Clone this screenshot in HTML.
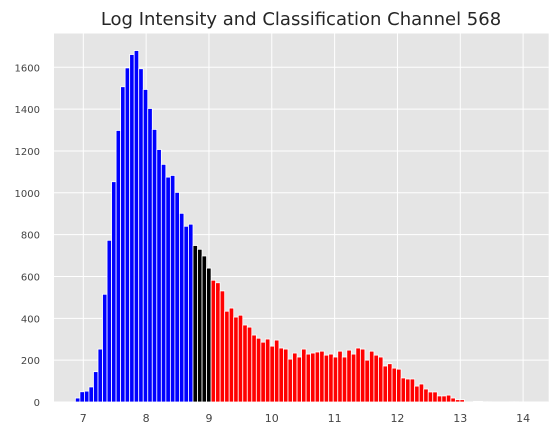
<!DOCTYPE html>
<html><head><meta charset="utf-8"><style>
body{margin:0;background:#fff;}
svg{display:block;font-family:"DejaVu Sans","Liberation Sans",sans-serif;}
</style></head><body>
<svg id="chart" width="558" height="437">
<text x="301" y="25" font-size="18" text-anchor="middle" fill="#262626">Log Intensity and Classification Channel 568</text>
<rect x="54" y="33.5" width="494.7" height="368.5" fill="#e5e5e5"/>
<g id="grid"></g><g id="bars"></g><g id="ticks"></g>
</svg>
<script>
const counts=[19,49,52,72,145,253,515,773,1053,1298,1507,1597,1661,1680,1593,1494,1403,1303,1207,1136,1075,1083,1002,902,840,850,
748,730,698,640,
582,570,531,434,449,406,415,368,358,320,305,286,301,267,296,258,253,205,234,215,253,229,234,239,243,224,229,215,243,215,248,229,258,253,200,243,224,215,
172,183,162,157,115,110,110,76,86,62,48,48,29,29,33,19,11,11,0,0,3,3,1,1,0,0,0,0,1,1];
const classes=[];
for(let i=0;i<counts.length;i++){classes.push(i<26?'blue':(i<30?'black':'red'));}
const binStart=6.874, binWidth=0.072;
const xTicks=[7,8,9,10,11,12,13,14];
const yTicks=[0,200,400,600,800,1000,1200,1400,1600];
const X=v=>83.3+(v-7)*62.83;
const Y=v=>402-v*0.2092;
const ns='http://www.w3.org/2000/svg';
const grid=document.getElementById('grid'),bars=document.getElementById('bars'),ticks=document.getElementById('ticks');
xTicks.forEach(t=>{
 const l=document.createElementNS(ns,'line');
 l.setAttribute('x1',X(t));l.setAttribute('x2',X(t));l.setAttribute('y1',33.5);l.setAttribute('y2',402);
 l.setAttribute('stroke','#fff');l.setAttribute('stroke-width','1');
 
 
 grid.appendChild(l);
 const tx=document.createElementNS(ns,'text');
 tx.setAttribute('x',X(t));tx.setAttribute('y',422);tx.setAttribute('text-anchor','middle');
 tx.setAttribute('font-size','11');tx.setAttribute('fill','#444');tx.textContent=t;
 
 
 ticks.appendChild(tx);
});
yTicks.forEach(t=>{
 const l=document.createElementNS(ns,'line');
 l.setAttribute('x1',54);l.setAttribute('x2',548.7);l.setAttribute('y1',Y(t));l.setAttribute('y2',Y(t));
 l.setAttribute('stroke','#fff');l.setAttribute('stroke-width','1');
 
 
 grid.appendChild(l);
 const tx=document.createElementNS(ns,'text');
 tx.setAttribute('x',40);tx.setAttribute('y',Y(t)+4);tx.setAttribute('text-anchor','end');
 tx.setAttribute('font-size','10');tx.setAttribute('fill','#444');tx.textContent=t;
 
 
 ticks.appendChild(tx);
});
counts.forEach((c,i)=>{
 if(c<=0)return;
 const x0=X(binStart+i*binWidth),x1=X(binStart+(i+1)*binWidth);
 const r=document.createElementNS(ns,'rect');
 r.setAttribute('x',x0);r.setAttribute('width',x1-x0);
 r.setAttribute('y',Y(c));r.setAttribute('height',Y(0)-Y(c));
 r.setAttribute('fill',classes[i]==='blue'?'#0000ff':classes[i]==='black'?'#000':'#ff0000');
 r.setAttribute('stroke','#fff');r.setAttribute('stroke-width','0.8');
 
 
 bars.appendChild(r);
});
</script>
</body></html>
